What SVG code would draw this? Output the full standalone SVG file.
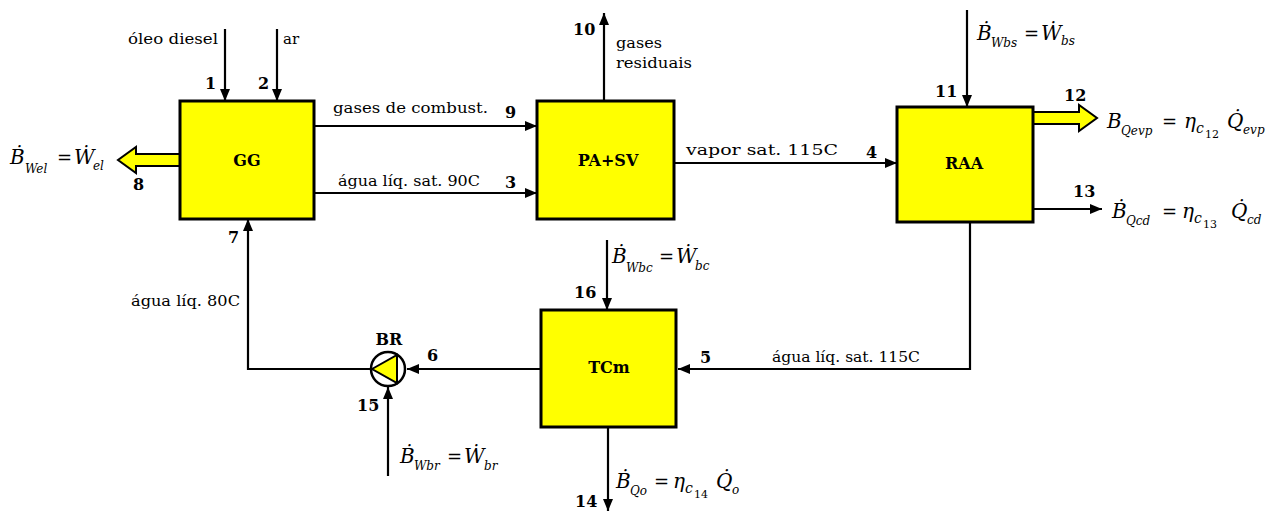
<svg xmlns="http://www.w3.org/2000/svg" width="1274" height="512" viewBox="0 0 1274 512" font-family="DejaVu Serif, Liberation Serif, serif">
<style>
.box{fill:#ffff00;stroke:#000;stroke-width:3}
.ln{fill:none;stroke:#000;stroke-width:2.2}
.hol{fill:#ffff00;stroke:#000;stroke-width:2;stroke-linejoin:miter}
.lbl{font-size:15px}
.num{font-size:16px;font-weight:bold}
.name{font-size:16px;font-weight:bold}
.f{font-size:20px;font-style:italic}
.s{font-size:12px;font-style:italic}
.sc{font-size:14px;font-style:italic}
.ss{font-size:11px;font-style:normal}
.eq{font-size:18px;font-style:normal}
</style>
<defs>
<marker id="ah" viewBox="0 0 12 10" refX="12" refY="5" markerWidth="12" markerHeight="10" markerUnits="userSpaceOnUse" orient="auto">
<path d="M0,0 L12,5 L0,10 z" fill="#000"/>
</marker>
</defs>
<rect width="1274" height="512" fill="#fff"/>

<g id="connectors">
<line class="ln" x1="225" y1="29" x2="225" y2="101" marker-end="url(#ah)"/>
<line class="ln" x1="277" y1="29" x2="277" y2="101" marker-end="url(#ah)"/>
<polygon class="hol" points="180,154 136,154 136,147 118,160 136,173 136,166 180,166"/>
<line class="ln" x1="314" y1="126" x2="537" y2="126" marker-end="url(#ah)"/>
<line class="ln" x1="314" y1="193" x2="537" y2="193" marker-end="url(#ah)"/>
<line class="ln" x1="604" y1="101" x2="604" y2="13" marker-end="url(#ah)"/>
<line class="ln" x1="674" y1="163" x2="897" y2="163" marker-end="url(#ah)"/>
<line class="ln" x1="967" y1="10" x2="967" y2="107" marker-end="url(#ah)"/>
<polygon class="hol" points="1033,112 1079,112 1079,105 1097,118 1079,131 1079,124 1033,124"/>
<line class="ln" x1="1033" y1="209" x2="1102" y2="209" marker-end="url(#ah)"/>
<polyline class="ln" points="970,222 970,369 678,369" marker-end="url(#ah)"/>
<line class="ln" x1="607" y1="240" x2="607" y2="310" marker-end="url(#ah)"/>
<line class="ln" x1="608" y1="427" x2="608" y2="511" marker-end="url(#ah)"/>
<line class="ln" x1="541" y1="369" x2="407" y2="369" marker-end="url(#ah)"/>
<polyline class="ln" points="371,369 248,369 248,219" marker-end="url(#ah)"/>
<line class="ln" x1="388" y1="476" x2="388" y2="387" marker-end="url(#ah)"/>
</g>

<g id="GG">
<rect class="box" x="180" y="101" width="134" height="118"/>
<text class="name" x="247" y="166" text-anchor="middle">GG</text>
</g>
<g id="PASV">
<rect class="box" x="537" y="101" width="137" height="118"/>
<text class="name" x="608" y="166" text-anchor="middle">PA+SV</text>
</g>
<g id="RAA">
<rect class="box" x="897" y="107" width="136" height="115"/>
<text class="name" x="964" y="169" text-anchor="middle">RAA</text>
</g>
<g id="TCm">
<rect class="box" x="541" y="310" width="135" height="117"/>
<text class="name" x="609" y="373" text-anchor="middle">TCm</text>
</g>
<g id="BR">
<circle cx="388" cy="369" r="17" fill="#fff" stroke="#000" stroke-width="2.5"/>
<polygon points="372,369 397,355 397,383" fill="#ffff00" stroke="#000" stroke-width="2"/>
<text class="name" x="389" y="345" text-anchor="middle">BR</text>
</g>

<g id="labels">
<text class="lbl" x="128" y="44" textLength="90" lengthAdjust="spacingAndGlyphs">óleo diesel</text>
<text class="lbl" x="283" y="44">ar</text>
<text class="num" x="205" y="89">1</text>
<text class="num" x="258" y="89">2</text>
<text class="num" x="133" y="190">8</text>
<text class="lbl" x="333" y="113" textLength="155" lengthAdjust="spacingAndGlyphs">gases de combust.</text>
<text class="num" x="505" y="118">9</text>
<text class="lbl" x="338" y="186" textLength="142" lengthAdjust="spacingAndGlyphs">água líq. sat. 90C</text>
<text class="num" x="505" y="188">3</text>
<text class="num" x="573" y="35">10</text>
<text class="lbl" x="616" y="48" textLength="46" lengthAdjust="spacingAndGlyphs">gases</text>
<text class="lbl" x="616" y="68" textLength="76" lengthAdjust="spacingAndGlyphs">residuais</text>
<text class="lbl" x="686" y="155" textLength="152" lengthAdjust="spacingAndGlyphs">vapor sat. 115C</text>
<text class="num" x="866" y="158">4</text>
<text class="num" x="935" y="97">11</text>
<text class="num" x="1064" y="101">12</text>
<text class="num" x="1073" y="197">13</text>
<text class="lbl" x="772" y="362" textLength="148" lengthAdjust="spacingAndGlyphs">água líq. sat. 115C</text>
<text class="num" x="700" y="363">5</text>
<text class="num" x="574" y="298">16</text>
<text class="num" x="575" y="507">14</text>
<text class="num" x="427" y="361">6</text>
<text class="num" x="228" y="243">7</text>
<text class="lbl" x="131" y="306" textLength="109" lengthAdjust="spacingAndGlyphs">água líq. 80C</text>
<text class="num" x="357" y="411">15</text>
</g>

<g id="formulas">
<text class="f" x="10" y="164">Ḃ<tspan class="s" x="25" y="173">Wel</tspan><tspan class="eq" x="57" y="164">=</tspan><tspan x="74" y="164">Ẇ</tspan><tspan class="s" x="93" y="170">el</tspan></text>
<text class="f" x="977" y="40">Ḃ<tspan class="s" x="991" y="47">Wbs</tspan><tspan class="eq" x="1024" y="40">=</tspan><tspan x="1041" y="40">Ẇ</tspan><tspan class="s" x="1061" y="45">bs</tspan></text>
<text class="f" x="1107" y="128">B<tspan class="s" x="1121" y="135">Qevp</tspan><tspan class="eq" x="1162" y="128">=</tspan><tspan x="1184" y="128">η</tspan><tspan class="sc" x="1196" y="133">c</tspan><tspan class="ss" x="1205" y="138">12</tspan><tspan x="1227" y="128">Q̇</tspan><tspan class="s" x="1243" y="134">evp</tspan></text>
<text class="f" x="1112" y="218">Ḃ<tspan class="s" x="1126" y="225">Qcd</tspan><tspan class="eq" x="1162" y="218">=</tspan><tspan x="1182" y="218">η</tspan><tspan class="sc" x="1194" y="223">c</tspan><tspan class="ss" x="1203" y="228">13</tspan><tspan x="1231" y="218">Q̇</tspan><tspan class="s" x="1247" y="224">cd</tspan></text>
<text class="f" x="612" y="263">Ḃ<tspan class="s" x="626" y="272">Wbc</tspan><tspan class="eq" x="659" y="263">=</tspan><tspan x="676" y="263">Ẇ</tspan><tspan class="s" x="695" y="270">bc</tspan></text>
<text class="f" x="616" y="488">Ḃ<tspan class="s" x="630" y="495">Qo</tspan><tspan class="eq" x="654" y="488">=</tspan><tspan x="673" y="488">η</tspan><tspan class="sc" x="685" y="493">c</tspan><tspan class="ss" x="694" y="498">14</tspan><tspan x="716" y="488">Q̇</tspan><tspan class="s" x="732" y="494">o</tspan></text>
<text class="f" x="400" y="463">Ḃ<tspan class="s" x="414" y="470">Wbr</tspan><tspan class="eq" x="447" y="463">=</tspan><tspan x="464" y="463">Ẇ</tspan><tspan class="s" x="484" y="470">br</tspan></text>
</g>
</svg>
